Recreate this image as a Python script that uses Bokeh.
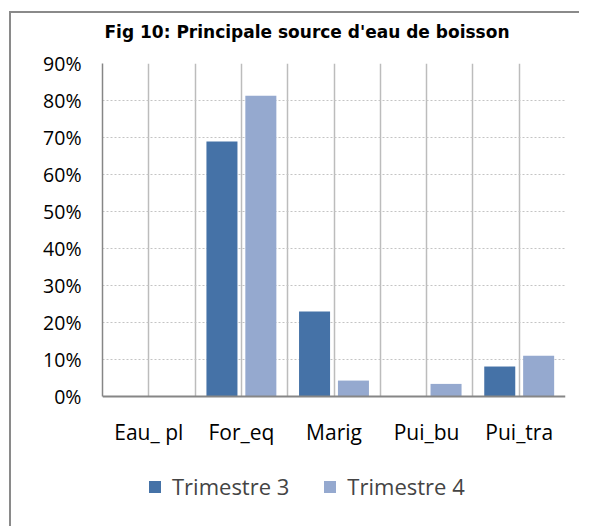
from bokeh.plotting import figure
from bokeh.models import (FactorRange, Range1d, FixedTicker, NumeralTickFormatter,
                          Legend, LegendItem, ColumnDataSource, Title)
from bokeh.transform import dodge
from bokeh.embed import file_html
from bokeh.resources import INLINE

categories = ["Eau_ pl", "For_eq", "Marig", "Pui_bu", "Pui_tra"]
trimestre3 = [0.0, 0.689, 0.230, 0.0, 0.081]
trimestre4 = [0.0, 0.813, 0.043, 0.034, 0.110]
series_names = ["Trimestre 3", "Trimestre 4"]
y_ticks = [0.0, 0.1, 0.2, 0.3, 0.4, 0.5, 0.6, 0.7, 0.8, 0.9]

FONT = "Open Sans"
C3 = "#4572A7"
C4 = "#95A9CF"

src = ColumnDataSource(dict(cat=categories, t3=trimestre3, t4=trimestre4))

# frame extends below the zero line to hold the legend (370 px per unit)
p = figure(width=570, height=515, x_range=FactorRange(*categories),
           y_range=Range1d(-0.3568, 0.9), output_backend="svg", toolbar_location=None,
           min_border_left=91, min_border_top=50, min_border_right=16,
           min_border_bottom=0, margin=(13, 0, 0, 11))
p.outline_line_color = None
p.background_fill_color = "white"
p.border_fill_color = "white"
p.styles = {"box-shadow": "-2px -2px 0px 0px #8a8a8a"}

# trailing empty line lifts the title towards the top of the chart
p.add_layout(Title(text="Fig 10: Principale source d'eau de boisson\n", align="left",
                   offset=2, standoff=4,
                   text_font="DejaVu Sans", text_font_size="17px",
                   text_font_style="bold", text_color="black"), "above")

r3 = p.vbar(x=dodge("cat", -0.21, range=p.x_range), top="t3", width=0.335, source=src,
            fill_color=C3, line_color=None)
r4 = p.vbar(x=dodge("cat", 0.21, range=p.x_range), top="t4", width=0.335, source=src,
            fill_color=C4, line_color=None)

# y axis
p.yaxis.ticker = FixedTicker(ticks=y_ticks)
p.yaxis.bounds = (0, 0.9)
p.yaxis.formatter = NumeralTickFormatter(format="0%")
p.yaxis.major_label_text_font = FONT
p.yaxis.major_label_text_font_size = "19.5px"
p.yaxis.major_label_text_color = "black"
p.yaxis.major_label_standoff = 21
p.yaxis.major_tick_out = 0
p.yaxis.major_tick_in = 0
p.yaxis.minor_tick_out = 0
p.yaxis.axis_line_color = "#868686"
p.yaxis.axis_line_width = 1.5

# x axis at zero
p.xaxis.fixed_location = 0
p.xaxis.major_label_text_font = FONT
p.xaxis.major_label_text_font_size = "21px"
p.xaxis.major_label_text_color = "black"
p.xaxis.major_label_standoff = 22
p.xaxis.major_tick_out = 0
p.xaxis.major_tick_in = 0
p.xaxis.axis_line_color = "#868686"
p.xaxis.axis_line_width = 2

# grids
p.ygrid.grid_line_color = "#c4c4c4"
p.ygrid.grid_line_dash = "2 2"
p.ygrid.grid_line_width = 1
p.xgrid.ticker = FixedTicker(ticks=[0.5, 1, 1.5, 2, 2.5, 3, 3.5, 4, 4.5, 5])
p.xgrid.cross_bounds = (0, 0.9)
p.xgrid.grid_line_color = "#bcbcbc"
p.xgrid.grid_line_width = 1.5

legend = Legend(items=[LegendItem(label=series_names[0], renderers=[r3]),
                       LegendItem(label=series_names[1], renderers=[r4])],
                orientation="horizontal", location=(45, 27),
                label_text_font=FONT, label_text_font_size="22px",
                label_standoff=10, glyph_width=15, glyph_height=15, spacing=33,
                padding=0, margin=0, border_line_color=None, background_fill_alpha=0)
p.add_layout(legend)

open("out.html", "w").write(file_html(p, INLINE))
